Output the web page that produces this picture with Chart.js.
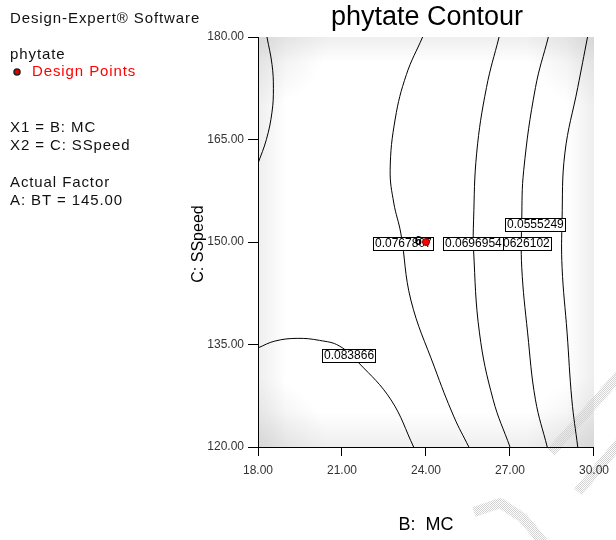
<!DOCTYPE html>
<html>
<head>
<meta charset="utf-8">
<script src="https://cdn.jsdelivr.net/npm/chart.js@4.4.1/dist/chart.umd.min.js"></script>
<style>
  html, body { margin: 0; padding: 0; background: #fff; }
  #wrap { width: 616px; height: 540px; position: relative; }
</style>
</head>
<body>
<div id="wrap"><canvas id="contour" width="616" height="540"></canvas></div>
<script>
// phytate contour — B: MC vs C: SSpeed, A: BT = 145.00
const xTicks = [18, 21, 24, 27, 30];
const yTicks = [120, 135, 150, 165, 180];

// contour lines, [MC, SSpeed]
const lineTopLeft = [[18.32, 180], [18.5, 176], [18.55, 172.5], [18.5, 169], [18.3, 165], [18.0, 161.5]];
const line083866  = [[18.0, 134.5], [18.6, 135.5], [19.4, 135.9], [20.2, 135.6], [20.9, 134.8], [21.6, 132.3], [22.75, 126.9], [23.56, 120]];
const line076781  = [[23.88, 180], [23.3, 174.5], [22.9, 168], [22.72, 160.5], [22.85, 155.7], [23.1, 151.3], [23.46, 141.5], [24.3, 131.7], [25.0, 124.4], [25.53, 120]];
const line069695  = [[26.61, 180], [26.16, 172.6], [25.81, 163], [25.7, 153.2], [25.7, 148.8], [25.91, 136.7], [26.4, 126.9], [27.0, 120]];
const line062610  = [[28.37, 180], [27.91, 172.6], [27.49, 160.5], [27.42, 153.2], [27.42, 146.3], [27.63, 136.7], [27.91, 126.9], [28.33, 120]];
const line055525  = [[29.77, 180], [29.42, 172.6], [28.96, 163], [28.86, 153.2], [28.86, 146.3], [29.04, 136.7], [29.21, 126.9], [29.42, 120]];

// contour labels: text and where they sit
const labelTexts = ['0.083866', '0.0767807', '0.0626102', '0.0696954', '0.0555249'];
const labelPos   = [[21.25, 133.4], [23.18, 149.8], [27.39, 149.8], [25.68, 149.8], [27.91, 152.6]];

// design point (center point, 6 replicates)
const designPoints = [[24, 150]];
const designCounts = ['6'];

const FONT = "'Liberation Sans', Arial, sans-serif";
const toXY = arr => arr.map(p => ({ x: p[0], y: p[1] }));

const contourSets = [lineTopLeft, line083866, line076781, line069695, line062610, line055525].map(l => ({
  data: toXY(l),
  showLine: true,
  tension: 0.4,
  borderColor: '#000',
  borderWidth: 1,
  pointRadius: 0,
  order: 1,
}));

const POINT_INDEX = contourSets.length;

const bgPlugin = {
  id: 'bg',
  beforeDraw(chart) {
    const { ctx, chartArea: a } = chart;
    const w = a.right - a.left, h = a.bottom - a.top;
    ctx.save();
    ctx.fillStyle = '#fff';
    ctx.fillRect(a.left, a.top, w, h);
    ctx.beginPath();
    ctx.rect(a.left, a.top, w, h);
    ctx.clip();
    // light grey shading along edges, darker in the corners
    const edges = [
      [a.left, 0, a.left + 28, 0, a.left, a.top, 28, h],
      [a.right, 0, a.right - 28, 0, a.right - 28, a.top, 28, h],
      [0, a.top, 0, a.top + 25, a.left, a.top, w, 25],
      [0, a.bottom, 0, a.bottom - 35, a.left, a.bottom - 35, w, 35],
    ];
    edges.forEach(e => {
      const g = ctx.createLinearGradient(e[0], e[1], e[2], e[3]);
      g.addColorStop(0, 'rgba(200,200,200,0.3)');
      g.addColorStop(1, 'rgba(200,200,200,0)');
      ctx.fillStyle = g;
      ctx.fillRect(e[4], e[5], e[6], e[7]);
    });
    [[a.left, a.top], [a.right, a.top], [a.left, a.bottom], [a.right, a.bottom]].forEach(c => {
      const g = ctx.createRadialGradient(c[0], c[1], 0, c[0], c[1], 70);
      g.addColorStop(0, 'rgba(200,200,200,0.45)');
      g.addColorStop(1, 'rgba(200,200,200,0)');
      ctx.fillStyle = g;
      ctx.fillRect(c[0] - 70, c[1] - 70, 140, 140);
    });
    ctx.restore();
  }
};

const labelPlugin = {
  id: 'contourLabels',
  beforeDatasetDraw(chart, args) {
    if (args.index !== POINT_INDEX) return;
    const { ctx, scales } = chart;
    ctx.save();
    ctx.font = '12px ' + FONT;
    ctx.textBaseline = 'middle';
    ctx.textAlign = 'left';
    labelTexts.forEach((t, i) => {
      const cx = scales.x.getPixelForValue(labelPos[i][0]);
      const cy = scales.y.getPixelForValue(labelPos[i][1]);
      const w = Math.round(ctx.measureText(t).width + 3);
      const h = 13;
      const x0 = Math.round(cx - w / 2) + 0.5, y0 = Math.round(cy - h / 2) + 0.5;
      ctx.fillStyle = '#fff';
      ctx.fillRect(x0, y0, w, h);
      ctx.strokeStyle = '#000';
      ctx.lineWidth = 1;
      ctx.strokeRect(x0, y0, w, h);
      ctx.fillStyle = '#000';
      ctx.fillText(t, x0 + 1.5, cy + 0.5);
    });
    ctx.restore();
  },
  afterDatasetsDraw(chart) {
    const { ctx, scales } = chart;
    ctx.save();
    ctx.font = 'bold 13px ' + FONT;
    ctx.fillStyle = '#000';
    ctx.textAlign = 'right';
    ctx.textBaseline = 'middle';
    designPoints.forEach((p, i) => {
      ctx.fillText(designCounts[i], scales.x.getPixelForValue(p[0]) - 4, scales.y.getPixelForValue(p[1]) - 1);
    });
    ctx.restore();
  }
};

const textPlugin = {
  id: 'texts',
  afterDraw(chart) {
    const { ctx } = chart;
    ctx.save();
    ctx.textBaseline = 'middle';
    ctx.textAlign = 'left';
    ctx.fillStyle = '#111';
    ctx.font = '15px ' + FONT;
    ctx.letterSpacing = '0.9px';
    ctx.fillText('Design-Expert® Software', 10, 19);
    ctx.fillText('phytate', 10, 55);
    ctx.fillText('X1 = B: MC', 10, 128);
    ctx.fillText('X2 = C: SSpeed', 10, 146);
    ctx.fillText('Actual Factor', 10, 183);
    ctx.fillText('A: BT = 145.00', 10, 201);
    ctx.fillStyle = '#ff0000';
    ctx.fillText('Design Points', 32, 72);
    ctx.letterSpacing = '0px';
    ctx.beginPath();
    ctx.arc(17, 72, 3, 0, Math.PI * 2);
    ctx.fillStyle = '#e00000';
    ctx.fill();
    ctx.lineWidth = 1.5;
    ctx.strokeStyle = '#222';
    ctx.stroke();

    // title + axis titles
    ctx.fillStyle = '#000';
    ctx.textAlign = 'center';
    ctx.textBaseline = 'alphabetic';
    ctx.font = '27px ' + FONT;
    ctx.fillText('phytate Contour', 427, 25);
    ctx.textBaseline = 'middle';
    ctx.font = '18px ' + FONT;
    ctx.fillText('B:  MC', 426, 525);
    ctx.save();
    ctx.translate(199, 244);
    ctx.rotate(-Math.PI / 2);
    ctx.font = '16px ' + FONT;
    ctx.fillText('C: SSpeed', 0, 0);
    ctx.restore();

    // faint hatched watermark strokes in the lower right
    const pc = document.createElement('canvas');
    pc.width = 2; pc.height = 2;
    const pctx = pc.getContext('2d');
    pctx.fillStyle = '#fff'; pctx.fillRect(0, 0, 2, 2);
    pctx.fillStyle = '#d2d2d2'; pctx.fillRect(0, 0, 1, 1); pctx.fillRect(1, 1, 1, 1);
    ctx.globalCompositeOperation = 'darken';
    ctx.strokeStyle = ctx.createPattern(pc, 'repeat');
    ctx.lineWidth = 10;
    ctx.lineCap = 'butt';
    ctx.lineJoin = 'round';
    [[[622, 372], [551, 452]],
     [[622, 440], [578, 492]],
     [[474, 512], [500, 503], [523, 518], [543, 542]]].forEach(s => {
      ctx.beginPath();
      ctx.moveTo(s[0][0], s[0][1]);
      s.slice(1).forEach(p => ctx.lineTo(p[0], p[1]));
      ctx.stroke();
    });
    ctx.restore();
  }
};

new Chart(document.getElementById('contour'), {
  type: 'scatter',
  data: {
    datasets: [...contourSets, {
      data: toXY(designPoints),
      pointRadius: 3.5,
      pointBackgroundColor: '#ff0000',
      pointBorderColor: '#8b0000',
      pointBorderWidth: 1,
      order: 0,
    }]
  },
  options: {
    responsive: false,
    animation: false,
    devicePixelRatio: 1,
    layout: { padding: { top: 37, right: 16, left: 0, bottom: 0 } },
    plugins: { legend: { display: false }, tooltip: { enabled: false }, title: { display: false } },
    scales: {
      x: {
        type: 'linear', min: xTicks[0], max: xTicks[xTicks.length - 1],
        afterBuildTicks: s => { s.ticks = xTicks.map(v => ({ value: v })); },
        afterFit: s => { s.height = 93; },
        ticks: { padding: 7, color: '#333', font: { family: FONT, size: 12 }, callback: v => v.toFixed(2), maxRotation: 0 },
        grid: { drawOnChartArea: false, tickLength: 9, color: '#000', lineWidth: 1 },
        border: { color: '#000', width: 1 },
      },
      y: {
        type: 'linear', min: yTicks[0], max: yTicks[yTicks.length - 1],
        afterBuildTicks: s => { s.ticks = yTicks.map(v => ({ value: v })); },
        afterFit: s => { s.width = 258; },
        ticks: { padding: 4, color: '#333', font: { family: FONT, size: 12 }, callback: v => v.toFixed(2) },
        grid: { drawOnChartArea: false, tickLength: 10, color: '#000', lineWidth: 1 },
        border: { color: '#000', width: 1 },
      }
    }
  },
  plugins: [bgPlugin, labelPlugin, textPlugin]
});
</script>
</body>
</html>
